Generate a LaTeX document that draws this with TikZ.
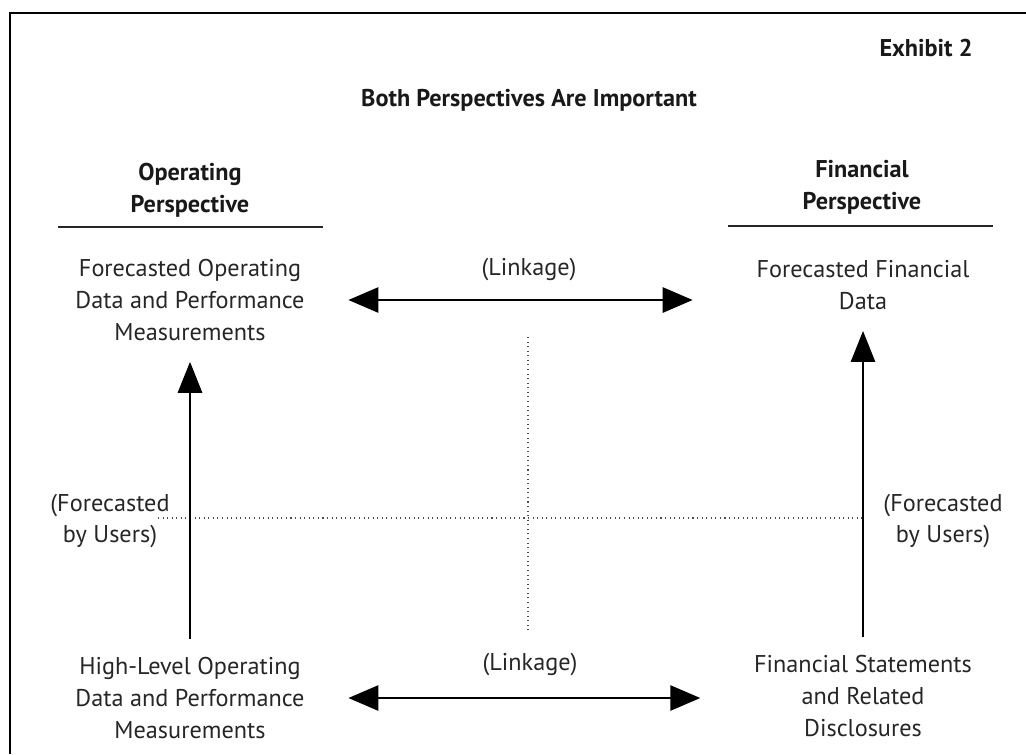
\documentclass[tikz,border=0pt]{standalone}
\usepackage{fontspec}
\setmainfont{PT Sans}
\usetikzlibrary{arrows.meta}

\tikzset{
        txt/.style = {align=center,inner sep=2pt,text=black!85,font=\fontsize{13.8}{18}\selectfont},
        head/.style = {align=center,inner sep=2pt,text=black!90,font=\fontsize{13.8}{18}\selectfont\bfseries},
        rule/.style = {line width=1.6pt,black!85},
        linkarr/.style = {line width=1.6pt,{Triangle[length=0.6cm,width=0.5cm]}-{Triangle[length=0.6cm,width=0.5cm]}},
        uparr/.style = {line width=1.6pt,-{Triangle[length=0.62cm,width=0.48cm]}},
        guide/.style = {dotted,line width=0.6pt,black!70}
    }

\begin{document}
\begin{tikzpicture}[x=0.02cm,y=-0.02cm]
            \useasboundingbox (0,0) rectangle (1026,754);
            \draw[line width=1.5pt] (10,754) -- (10,13) -- (1026,13);

            \node[head] (exh) at (926,48) {Exhibit 2};
            \node[head] (title) at (529,100) {Both Perspectives Are Important};

            \node[head] (ophead) at (190,190) {Operating\\Perspective};
            \node[head] (fnhead) at (862,187) {Financial\\Perspective};
            \draw[rule] (58,227) -- (323,227);
            \draw[rule] (728,226) -- (993,226);

            \node[txt] (opfc) at (190,300) {Forecasted Operating\\Data and Performance\\Measurements};
            \node[txt] (fnfc) at (863,285) {Forecasted Financial\\Data};
            \node[txt] (lk1) at (529,270) {(Linkage)};

            \node[txt] (opbase) at (190,698) {High-Level Operating\\Data and Performance\\Measurements};
            \node[txt] (fnbase) at (863,696) {Financial Statements\\and Related\\Disclosures};
            \node[txt] (lk2) at (530,665) {(Linkage)};

            \node[txt] (usl) at (110,521) {(Forecasted\\by Users)};
            \node[txt] (usr) at (943,521) {(Forecasted\\by Users)};

            % guide lines
            \draw[guide] (528,337) -- (528,632);
            \draw[guide] (158,518) -- (866,518);

            \draw[linkarr,shorten <=0.8cm,shorten >=1.2cm] (opfc) -- (opfc -| fnfc.west);
            \draw[linkarr,shorten <=0.8cm,shorten >=1.0cm] (opbase) -- (opbase -| fnbase.west);
            \draw[uparr,shorten <=0.3cm,shorten >=0.35cm] (opbase) -- (opfc);
            \draw[uparr,shorten <=0.3cm,shorten >=0.35cm] (fnbase) -- (fnbase |- fnfc.south);
        \end{tikzpicture}
\end{document}
